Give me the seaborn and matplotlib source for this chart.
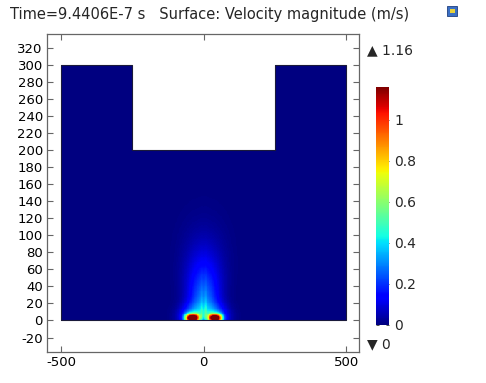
import numpy as np
import matplotlib
matplotlib.use("Agg")
import matplotlib.pyplot as plt
import seaborn as sns
from matplotlib.patches import Rectangle

# ---- chart data ----
title = "Time=9.4406E-7 s   Surface: Velocity magnitude (m/s)"
x_ticks = [-500, 0, 500]
y_ticks = [-20, 0, 20, 40, 60, 80, 100, 120, 140, 160, 180, 200, 220, 240, 260, 280, 300, 320]
cbar_ticks = [0, 0.2, 0.4, 0.6, 0.8, 1]
cbar_labels = ["0", "0.2", "0.4", "0.6", "0.8", "1"]
v_min, v_max = 0.0, 1.16
# domain outline (um): outer box with a notch cut from the top
domain_x = [-500, 500, 500, 250, 250, -250, -250, -500, -500]
domain_y = [0, 0, 300, 300, 200, 200, 300, 300, 0]
# hot spots at the bottom wall
spot_x = [-40, 40]
spot_y = [3, 3]
spot_peak = [1.16, 1.10]
spot_wx = [24, 24]
spot_wy = [4.5, 4.5]
halo_peak = [0.26, 0.26]
halo_wx = [45, 45]
halo_wy = [14, 14]
# rising plume above the spots
plume_peak = 0.34
plume_height = 70
plume_width0 = 48
plume_spread = 0.25
streak_x = [-7, 7]
streak_peak = [0.14, 0.14]
streak_width = [4, 4]
streak_height = [22, 22]

# ---- grid ----
x0, x1, dx = -550.0, 545.0, 2.5
y0, y1, dy = -37.0, 336.0, 1.0
xc = np.arange(x0 + dx / 2, x1, dx)
yc = np.arange(y0 + dy / 2, y1, dy)
X, Y = np.meshgrid(xc, yc)

inside = (np.abs(X) <= 500) & (Y >= 0) & (Y <= 300) & ~((np.abs(X) < 250) & (Y > 200))

Yp = np.clip(Y, 0, None)
V = np.zeros_like(X)
for sx, sy, pk, wx, wy, hp, hwx, hwy in zip(spot_x, spot_y, spot_peak, spot_wx, spot_wy,
                                            halo_peak, halo_wx, halo_wy):
    V += pk * np.exp(-np.abs((X - sx) / wx) ** 2.6 - np.abs((Y - sy) / wy) ** 2)
    V += hp * np.exp(-((X - sx) / hwx) ** 2 - ((Y - sy) / hwy) ** 2)
w = plume_width0 + plume_spread * Yp
V += plume_peak * np.exp(-(X / w) ** 2) * np.exp(-(Yp / plume_height) ** 2) * (1 - np.exp(-Yp / 8))
for sx, pk, sw, sh in zip(streak_x, streak_peak, streak_width, streak_height):
    V += pk * np.exp(-((X - sx) / sw) ** 2) * np.exp(-Yp / sh) * (1 - np.exp(-Yp / 3))
V = np.clip(V, v_min, v_max)
V = np.where(inside, V, np.nan)

# ---- figure ----
sns.set_style("white")
plt.rcParams["font.family"] = ["DejaVu Sans"]

fig = plt.figure(figsize=(4.86, 3.83), dpi=100)
ax = fig.add_axes([47 / 486, 1 - 352 / 383, (359 - 47) / 486, (352 - 34) / 383])
cax = fig.add_axes([376 / 486, 1 - 325 / 383, 13 / 486, (325 - 87) / 383])

sns.heatmap(V, ax=ax, cmap="jet", vmin=v_min, vmax=v_max, cbar=True, cbar_ax=cax,
            xticklabels=False, yticklabels=False, mask=~inside)
ny, nx = V.shape
ax.set_xlim(0, nx)
ax.set_ylim(0, ny)

def xi(v):
    return (np.asarray(v, dtype=float) - x0) / dx

def yi(v):
    return (np.asarray(v, dtype=float) - y0) / dy

ax.plot(xi(domain_x), yi(domain_y), color="#1a1a3a", lw=0.8)

ax.set_xticks(xi(x_ticks))
ax.set_xticklabels([str(t) for t in x_ticks], fontsize=9.5)
ax.set_yticks(yi(y_ticks))
ax.set_yticklabels([str(t) for t in y_ticks], fontsize=9.5)
ax.tick_params(direction="in", length=4, width=0.8, color="#666666",
               top=True, right=True, bottom=True, left=True, pad=3, labelcolor="black")
for s in ax.spines.values():
    s.set_visible(True)
    s.set_color("#666666")
    s.set_linewidth(0.9)

cax.set_yticks(cbar_ticks)
cax.set_yticklabels(cbar_labels, fontsize=10)
cax.tick_params(direction="in", length=2, width=0.6, color="#333333", right=True, left=True, pad=4)
for s in cax.spines.values():
    s.set_visible(False)

fig.text(10 / 486, 1 - 15 / 383, title, fontsize=10.5, va="center", ha="left")
fig.text(367 / 486, 1 - 50 / 383, "\u25B2 1.16", fontsize=10, va="center", ha="left")
fig.text(367 / 486, 1 - 344 / 383, "\u25BC 0", fontsize=10, va="center", ha="left")

# small icon in the corner
fig.patches.append(Rectangle((447 / 486, 1 - 16 / 383), 10 / 486, 10 / 383, transform=fig.transFigure,
                             facecolor="#3a6fc4", edgecolor="#1f3f80", lw=0.6))
fig.patches.append(Rectangle((450 / 486, 1 - 13 / 383), 5 / 486, 4 / 383, transform=fig.transFigure,
                             facecolor="#e8d23a", edgecolor="none"))

fig.savefig("out.png", dpi=100)
